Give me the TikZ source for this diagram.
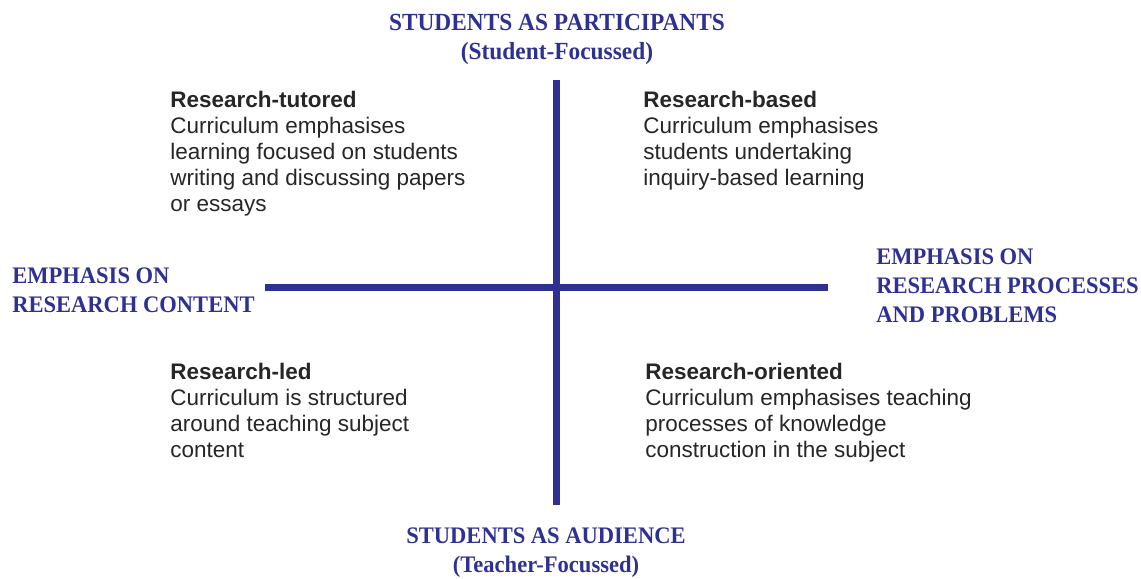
\documentclass[tikz,border=0pt]{standalone}
\usepackage{fontspec}
\setmainfont{Liberation Sans}
\newfontfamily\headfont[FakeStretch=0.95]{Liberation Serif}
\usetikzlibrary{positioning, calc}
\usepackage{xcolor}
\definecolor{axisblue}{RGB}{46,49,146}
\tikzset{
    axisline/.style={draw=axisblue, line width=0.14cm},
    heading/.style={font=\headfont\bfseries\fontsize{13.5}{16.5}\selectfont, text=axisblue, inner sep=0pt},
    quadtext/.style={font=\fontsize{12.8}{14.8}\selectfont, text=black!85, align=left, anchor=north west, inner sep=0pt}
}

\begin{document}
\begin{tikzpicture}[x=0.02cm, y=-0.02cm]
  \useasboundingbox (0,0) rectangle (1141,578);

  % the two axes
  \coordinate (top)    at (556,80);
  \coordinate (bottom) at (556,505);
  \coordinate (left)   at (265,287);
  \coordinate (right)  at (828,287);
  \draw[axisline] (top) -- (bottom);
  \draw[axisline] (left) -- (right);

  % axis headings
  \node[heading, align=center, font=\headfont\bfseries\fontsize{14}{16.5}\selectfont] (participants) at (557,39)
    {STUDENTS AS PARTICIPANTS\\(Student-Focussed)};
  \node[heading, align=center] (audience) at (546,553)
    {STUDENTS AS AUDIENCE\\(Teacher-Focussed)};
  \node[heading, align=left, anchor=west] (content) at (12,290)
    {EMPHASIS ON\\RESEARCH CONTENT};
  \node[heading, align=left, anchor=west] (processes) at (876,286)
    {EMPHASIS ON\\RESEARCH PROCESSES\\AND PROBLEMS};

  % quadrants
  \node[quadtext] (tutored) at (170,91)
    {\textbf{Research-tutored}\\Curriculum emphasises\\learning focused on students\\writing and discussing papers\\or essays};
  \node[quadtext] (based) at (643,91)
    {\textbf{Research-based}\\Curriculum emphasises\\students undertaking\\inquiry-based learning};
  \node[quadtext] (led) at (170,363)
    {\textbf{Research-led}\\Curriculum is structured\\around teaching subject\\content};
  \node[quadtext] (oriented) at (645,363)
    {\textbf{Research-oriented}\\Curriculum emphasises teaching\\processes of knowledge\\construction in the subject};
\end{tikzpicture}
\end{document}
